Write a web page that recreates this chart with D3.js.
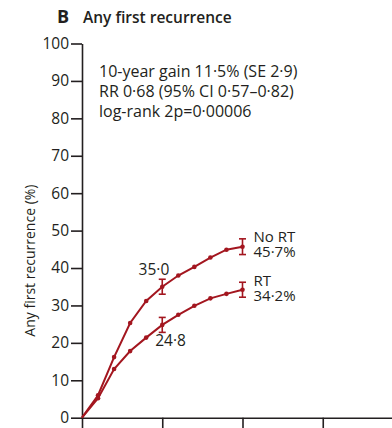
<!DOCTYPE html>
<html>
<head>
<meta charset="utf-8">
<script src="https://cdn.jsdelivr.net/npm/d3@7"></script>
<style>
  html, body { margin: 0; padding: 0; background: #fff; }
  svg { display: block; }
  text { font-family: "Open Sans", "Noto Sans", sans-serif; fill: #231f20; }
</style>
</head>
<body>
<div id="chart"></div>
<script>
// Cumulative risk of any first recurrence by year since randomisation
const years = [0, 1, 2, 3, 4, 5, 6, 7, 8, 9, 10];
const noRT = [0, 6.0, 16.2, 25.3, 31.2, 35.0, 38.0, 40.3, 42.8, 44.9, 45.7];
const rt = [0, 5.2, 13.0, 17.8, 21.4, 24.8, 27.5, 29.9, 31.9, 33.1, 34.2];

// Error bars (± SE) at 5 and 10 years
const errYears = [5, 10];
const noRTse = [2.0, 2.1];
const rtSe = [2.0, 2.0];

const yTicks = [0, 10, 20, 30, 40, 50, 60, 70, 80, 90, 100];
const xTicks = [0, 5, 10, 15, 20];

const statLines = [
  "10-year gain 11·5% (SE 2·9)",
  "RR 0·68 (95% CI 0·57–0·82)",
  "log-rank 2p=0·00006"
];

const W = 392, H = 428;
const red = "#a3161f";
const ink = "#231f20";

const svg = d3.select("#chart").append("svg")
  .attr("width", W).attr("height", H);

const x = d3.scaleLinear().domain([0, 20]).range([82, 403]);
const y = d3.scaleLinear().domain([0, 100]).range([417.7, 43.5]);

// Title
const title = svg.append("text").attr("x", 57).attr("y", 23)
  .style("font-size", "15.5px");
title.append("tspan").text("B").style("font-weight", 700).style("font-size", "18px");
title.append("tspan").attr("x", 83).text("Any first recurrence").style("font-weight", 600);

// Y axis
const yAxis = svg.append("g").attr("transform", `translate(${x(0)},0)`)
  .call(d3.axisLeft(y).tickValues(yTicks).tickSize(11).tickPadding(2).tickSizeOuter(0));
yAxis.select(".domain").attr("stroke", ink).attr("stroke-width", 1.6);
yAxis.selectAll(".tick line").attr("stroke", ink).attr("stroke-width", 1.6);
yAxis.selectAll(".tick text").style("font-size", "15.5px").attr("fill", ink)
  .style("font-family", "'Open Sans', sans-serif");

// X axis
const xAxis = svg.append("g").attr("transform", `translate(0,${y(0)})`)
  .call(d3.axisBottom(x).tickValues(xTicks).tickSize(11).tickFormat("").tickSizeOuter(0));
xAxis.select(".domain").attr("stroke", ink).attr("stroke-width", 1.6);
xAxis.selectAll(".tick line").attr("stroke", ink).attr("stroke-width", 1.6);

// Y axis label
svg.append("text")
  .attr("transform", `translate(35,${(y(0) + y(100)) / 2 + 30}) rotate(-90)`)
  .attr("text-anchor", "middle")
  .style("font-size", "14px")
  .text("Any first recurrence (%)");

// Summary statistics
svg.append("g").selectAll("text").data(statLines).join("text")
  .attr("x", 99).attr("y", (d, i) => 77 + i * 20)
  .style("font-size", "16px")
  .text(d => d);

// Curves
const line = d3.line().x((d, i) => x(years[i])).y(d => y(d));
[noRT, rt].forEach(series => {
  svg.append("path").datum(series)
    .attr("d", line)
    .attr("fill", "none")
    .attr("stroke", red)
    .attr("stroke-width", 2);
  svg.append("g").selectAll("circle").data(series.slice(1)).join("circle")
    .attr("cx", (d, i) => x(years[i + 1]))
    .attr("cy", d => y(d))
    .attr("r", 2.3)
    .attr("fill", red);
});

// Error bars
function errorBars(series, se) {
  const g = svg.append("g").attr("stroke", red).attr("stroke-width", 1.6);
  errYears.forEach((yr, i) => {
    const v = series[years.indexOf(yr)];
    const cx = x(yr);
    const top = y(v + se[i]), bot = y(v - se[i]);
    g.append("line").attr("x1", cx).attr("x2", cx).attr("y1", top).attr("y2", bot);
    g.append("line").attr("x1", cx - 3.5).attr("x2", cx + 3.5).attr("y1", top).attr("y2", top);
    g.append("line").attr("x1", cx - 3.5).attr("x2", cx + 3.5).attr("y1", bot).attr("y2", bot);
  });
}
errorBars(noRT, noRTse);
errorBars(rt, rtSe);

// Value labels at 5 years
const fmt = v => d3.format(".1f")(v).replace(".", "·");
svg.append("text").attr("x", x(5) + 7).attr("y", y(noRT[5]) - 12)
  .attr("text-anchor", "end").style("font-size", "15.5px")
  .text(fmt(noRT[5]));
svg.append("text").attr("x", x(5) - 7).attr("y", y(rt[5]) + 21)
  .style("font-size", "15.5px")
  .text(fmt(rt[5]));

// End-of-curve labels at 10 years
function endLabel(name, v, baseline) {
  const g = svg.append("g").style("font-size", "15px");
  g.append("text").attr("x", x(10) + 11).attr("y", baseline).text(name);
  g.append("text").attr("x", x(10) + 11).attr("y", baseline + 15).text(fmt(v) + "%");
}
endLabel("No RT", noRT[10], y(noRT[10]) - 5);
endLabel("RT", rt[10], y(rt[10]) - 4);
</script>
</body>
</html>
